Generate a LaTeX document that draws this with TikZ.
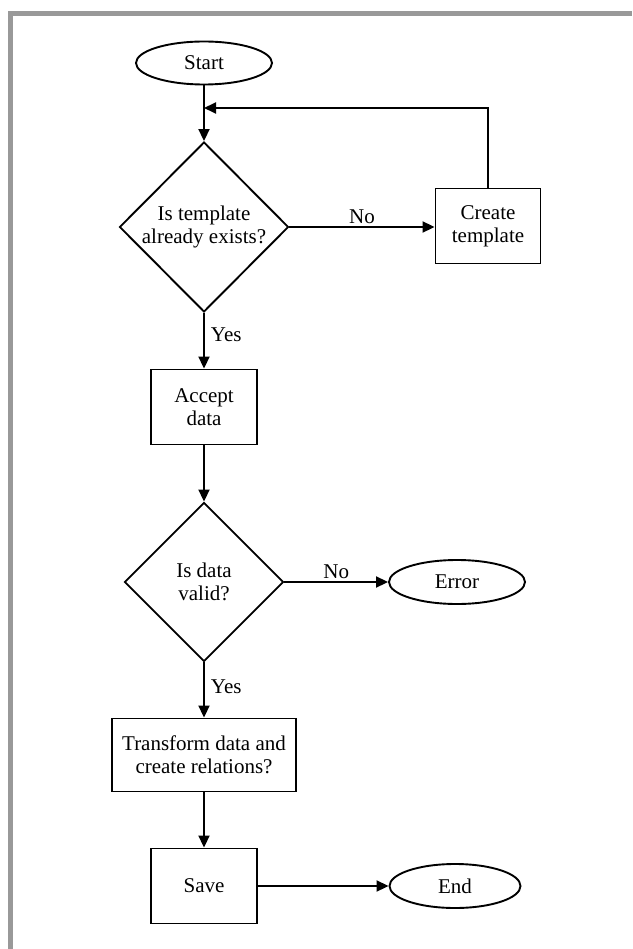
\documentclass[tikz,border=0pt]{standalone}
\usepackage{fontspec}
\setmainfont{Liberation Serif}
\usetikzlibrary{shapes.geometric,arrows.meta}
\definecolor{framegray}{HTML}{999999}
\begin{document}
\begin{tikzpicture}[x=1pt,y=-1pt,
  every node/.style={font=\fontsize{21}{23}\selectfont, align=center, line width=1.9pt},
  terminal/.style={draw, ellipse, inner sep=0pt},
  process/.style={draw, rectangle, inner sep=0pt},
  decision/.style={draw, diamond, inner sep=0pt},
  flow/.style={line width=1.9pt, -{Triangle[length=12pt,width=11pt]}},
  lbl/.style={draw=none, inner sep=2pt}]
\useasboundingbox (0,0) rectangle (632,949);
% frame strips along the top and left edges
\fill[framegray] (8,11) rectangle (632,16);
\fill[framegray] (8,11) rectangle (13,949);

% nodes
\node[terminal, minimum width=136pt, minimum height=43pt] (start) at (204,63) {Start};
\node[decision, minimum width=169pt, minimum height=170pt] (d1) at (204,227) {Is template\\already exists?};
\node[process, minimum width=105pt, minimum height=75pt] (create) at (488,226) {Create\\template};
\node[process, minimum width=106pt, minimum height=75pt] (accept) at (204,407) {Accept\\data};
\node[decision, minimum width=159pt, minimum height=159pt] (d2) at (204,582) {Is data\\valid?};
\node[terminal, minimum width=136pt, minimum height=44pt] (error) at (457,582) {Error};
\node[process, minimum width=184pt, minimum height=73pt] (transform) at (204,755) {Transform data and\\create relations?};
\node[process, minimum width=106pt, minimum height=75pt] (save) at (204,886) {Save};
\node[terminal, minimum width=131pt, minimum height=44pt] (end) at (455,886) {End};

\coordinate (join) at (204,108);

% connectors
\draw[flow] (start.south) -- (d1.north);
\draw[flow] (create.north) |- (join);
\draw[flow] (d1.east) -- node[lbl, above] {No} (d1.east -| create.west);
\draw[flow] (d1.south) -- node[lbl, right=4pt, pos=0.39] {Yes} (accept.north);
\draw[flow] (accept.south) -- (d2.north);
\draw[flow] (d2.east) -- node[lbl, above] {No} (error.west);
\draw[flow] (d2.south) -- node[lbl, right=4pt, pos=0.44] {Yes} (transform.north);
\draw[flow] (transform.south) -- (save.north);
\draw[flow] (save.east) -- (end.west);
\end{tikzpicture}
\end{document}
